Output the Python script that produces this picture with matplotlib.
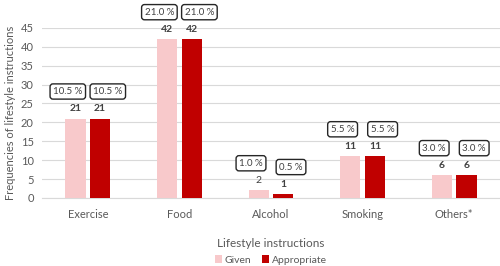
import numpy as np
import matplotlib.pyplot as plt

categories = ['Exercise', 'Food', 'Alcohol', 'Smoking', 'Others*']
given = [21, 42, 2, 11, 6]
appropriate = [21, 42, 1, 11, 6]
given_pct = ['10.5 %', '21.0 %', '1.0 %', '5.5 %', '3.0 %']
appr_pct = ['10.5 %', '21.0 %', '0.5 %', '5.5 %', '3.0 %']

plt.rcParams['font.family'] = ['Lato', 'DejaVu Sans']
txt = '#595959'

fig = plt.figure(figsize=(5, 2.66), dpi=100)
ax = fig.add_axes([0.084, 0.256, 0.916, 0.639])

x = np.arange(len(categories))
w = 0.22
off = 0.135
b1 = ax.bar(x - off, given, w, color='#F8C9CB', label='Given', zorder=3)
b2 = ax.bar(x + off, appropriate, w, color='#C00000', label='Appropriate', zorder=3)

box = dict(boxstyle='round,pad=0.32,rounding_size=0.3', fc='white', ec='#262626', lw=1)
for i in range(len(categories)):
    for xi, v, p, dx in [(x[i] - off, given[i], given_pct[i], -5.5), (x[i] + off, appropriate[i], appr_pct[i], 5.5)]:
        wt = 'normal' if v == 2 else 'bold'
        ax.annotate(str(v), (xi, v), xytext=(0, 4), textcoords='offset points',
                    ha='center', va='bottom', fontsize=7.5, fontweight=wt, color='#404040')
        ax.annotate(p, (xi, v), xytext=(dx, 19.5), textcoords='offset points',
                    ha='center', va='center', fontsize=7, color='#404040', bbox=box,
                    annotation_clip=False)

ax.set_xlim(-0.5, len(categories) - 0.5)
ax.set_ylim(0, 45)
ax.set_yticks(np.arange(0, 46, 5))
ax.set_xticks(x)
ax.set_xticklabels(categories)
ax.yaxis.grid(True, color='#D9D9D9', lw=0.8, zorder=0)
for s in ['top', 'right', 'left']:
    ax.spines[s].set_visible(False)
ax.spines['bottom'].set_color('#D9D9D9')
ax.tick_params(length=0, labelsize=8, colors=txt)
ax.tick_params(axis='x', pad=8)
ax.tick_params(axis='y', pad=6)
ax.set_xlabel('Lifestyle instructions', fontsize=8.5, color=txt, labelpad=13)
ax.set_ylabel('Frequencies of lifestyle instructions', fontsize=8, color=txt, labelpad=3)
ax.legend(loc='center', bbox_to_anchor=(0.5, -0.365), ncol=2, frameon=False,
          fontsize=7.5, labelcolor=txt, handlelength=0.7, handleheight=0.7, columnspacing=1.0,
          handletextpad=0.3)

plt.savefig('out.png', dpi=100)
